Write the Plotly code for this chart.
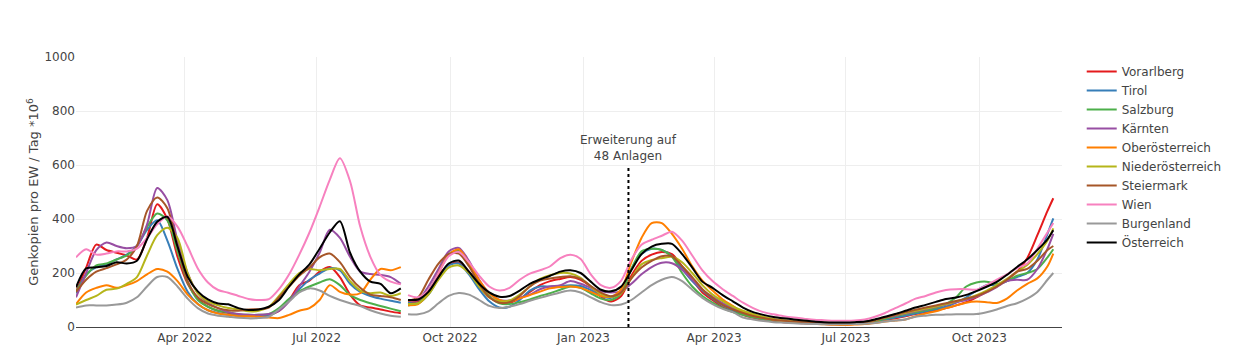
import plotly.graph_objects as go
import pandas as pd

# Dates: weekly samples, gap end of Aug 2022, second period weekly from Sep 2022
dates_a = list(pd.date_range("2022-01-16", periods=33, freq="7D"))
gap_date = [pd.Timestamp("2022-08-31")]
dates_b = list(pd.date_range("2022-09-02", periods=64, freq="7D")) + [pd.Timestamp("2023-11-21")]
dates = dates_a + gap_date + dates_b

names = ["Vorarlberg", "Tirol", "Salzburg", "Kärnten", "Oberösterreich",
         "Niederösterreich", "Steiermark", "Wien", "Burgenland", "Österreich"]
colors = ["#e41a1c", "#377eb8", "#4daf4a", "#984ea3", "#ff7f00",
          "#b5b51a", "#a65628", "#f781bf", "#999999", "#000000"]

vorarlberg_a = [130, 220, 305, 285, 275, 265, 250, 330, 455, 400, 260, 160, 105, 75, 60, 52, 45,
                42, 42, 45, 60, 100, 155, 172, 205, 222, 185, 120, 80, 72, 65, 57, 51]
vorarlberg_b = [92, 95, 135, 190, 230, 238, 205, 150, 110, 92, 90, 105, 130, 155, 170, 178, 185,
                175, 150, 112, 94, 115, 190, 245, 268, 278, 270, 225, 175, 128, 100, 73, 57,
                45, 34, 27, 22, 18, 16, 14, 12, 11, 10, 10, 11, 13, 18, 25, 32, 40,
                48, 55, 62, 70, 80, 92, 110, 130, 150, 175, 205, 255, 340, 430, 477]

tirol_a = [125, 195, 222, 232, 250, 268, 300, 360, 395, 320, 215, 130, 85, 62, 52, 45, 42,
           40, 40, 42, 62, 100, 140, 175, 198, 218, 210, 160, 130, 115, 105, 97, 90]
tirol_b = [90, 88, 120, 180, 228, 235, 195, 140, 95, 72, 75, 100, 135, 150, 150, 152, 155,
           152, 137, 115, 108, 135, 215, 270, 290, 285, 262, 215, 170, 135, 105, 80, 62,
           48, 38, 30, 25, 21, 18, 16, 14, 13, 12, 12, 13, 15, 20, 28, 35, 42,
           50, 58, 66, 75, 90, 110, 135, 155, 155, 170, 185, 200, 250, 345, 402]

salzburg_a = [130, 190, 228, 235, 250, 265, 300, 370, 420, 395, 280, 165, 100, 75, 60, 55, 47,
              45, 45, 48, 70, 105, 132, 150, 165, 177, 155, 118, 100, 88, 78, 68, 58]
salzburg_b = [80, 88, 130, 205, 270, 282, 230, 165, 115, 88, 85, 92, 102, 115, 125, 138, 150,
              145, 125, 105, 100, 125, 215, 280, 290, 285, 260, 200, 150, 115, 90, 70, 55,
              45, 36, 30, 25, 22, 19, 17, 15, 14, 13, 13, 14, 16, 22, 30, 40, 48,
              55, 62, 70, 85, 110, 150, 165, 168, 160, 170, 190, 200, 215, 258, 288]

kaernten_a = [110, 200, 285, 313, 300, 292, 300, 380, 515, 470, 320, 200, 125, 90, 70, 55, 48,
              45, 45, 48, 60, 95, 150, 205, 275, 360, 330, 260, 205, 196, 193, 185, 160]
kaernten_b = [100, 100, 150, 215, 280, 293, 245, 175, 125, 100, 98, 108, 120, 140, 150, 155, 170,
              160, 145, 132, 128, 132, 160, 195, 222, 238, 236, 212, 175, 137, 112, 88, 70,
              55, 42, 34, 28, 24, 20, 18, 16, 15, 14, 14, 15, 18, 25, 35, 42, 50,
              58, 66, 74, 82, 92, 100, 112, 128, 148, 170, 175, 175, 215, 290, 345]

ooe_a = [85, 128, 145, 155, 145, 155, 170, 195, 215, 205, 170, 120, 85, 62, 50, 45, 40,
         40, 38, 35, 33, 45, 60, 70, 100, 155, 130, 120, 125, 175, 215, 210, 222]
ooe_b = [81, 85, 125, 199, 267, 288, 236, 174, 125, 100, 94, 106, 118, 131, 143, 148, 150,
         145, 130, 115, 112, 140, 240, 330, 385, 385, 345, 290, 225, 172, 135, 102, 78,
         55, 42, 34, 27, 22, 18, 15, 12, 10, 8, 7, 9, 11, 15, 20, 24, 28,
         40, 50, 58, 70, 80, 90, 94, 92, 89, 105, 135, 160, 180, 225, 272]

noe_a = [83, 100, 115, 138, 142, 160, 185, 265, 340, 368, 330, 200, 125, 95, 80, 70, 65,
         58, 60, 75, 115, 160, 200, 215, 210, 215, 215, 170, 135, 125, 128, 115, 125]
noe_b = [85, 88, 120, 175, 220, 228, 200, 150, 110, 95, 98, 120, 150, 178, 192, 200, 198,
         182, 150, 123, 112, 125, 180, 232, 248, 255, 260, 240, 200, 155, 120, 96, 75,
         60, 48, 38, 30, 25, 21, 19, 17, 16, 15, 15, 16, 18, 25, 35, 45, 52,
         60, 68, 76, 85, 95, 105, 118, 135, 155, 178, 205, 230, 270, 320, 365]

stmk_a = [130, 175, 205, 218, 232, 250, 300, 430, 480, 440, 300, 170, 110, 85, 70, 62, 60,
          65, 66, 72, 110, 150, 190, 220, 258, 272, 240, 185, 145, 120, 115, 110, 100]
stmk_b = [97, 110, 175, 235, 270, 272, 225, 160, 110, 90, 92, 115, 150, 172, 180, 185, 188,
          178, 152, 127, 114, 128, 180, 220, 245, 262, 262, 225, 185, 140, 108, 82, 65,
          52, 41, 33, 27, 23, 20, 18, 16, 15, 14, 14, 15, 18, 25, 35, 45, 55,
          64, 72, 80, 88, 96, 105, 115, 130, 150, 175, 205, 215, 245, 285, 300]

wien_a = [258, 288, 268, 272, 280, 280, 290, 330, 380, 410, 372, 298, 217, 165, 137, 127, 115,
          104, 100, 103, 140, 195, 268, 350, 445, 545, 625, 540, 372, 260, 192, 168, 158]
wien_b = [118, 110, 135, 200, 262, 278, 240, 190, 150, 135, 145, 175, 198, 210, 225, 255, 268,
          252, 195, 155, 145, 172, 250, 305, 323, 338, 353, 320, 265, 210, 170, 140, 115,
          90, 70, 55, 47, 40, 35, 31, 27, 25, 23, 23, 24, 28, 38, 52, 70, 87,
          105, 115, 128, 137, 140, 140, 138, 155, 175, 195, 218, 235, 290, 350, 385]

burgenland_a = [72, 80, 80, 80, 83, 90, 110, 150, 185, 185, 150, 105, 70, 50, 42, 38, 34,
                32, 33, 38, 65, 95, 128, 143, 135, 115, 100, 88, 78, 62, 50, 42, 38]
burgenland_b = [47, 47, 58, 88, 115, 126, 120, 100, 78, 70, 75, 85, 97, 108, 118, 128, 135,
                128, 110, 92, 81, 83, 100, 128, 155, 175, 185, 170, 138, 108, 85, 67, 55,
                35, 28, 22, 18, 16, 14, 12, 11, 10, 10, 10, 11, 12, 15, 20, 24, 28,
                38, 42, 45, 46, 47, 47, 48, 55, 65, 78, 88, 105, 130, 175, 200]

oesterreich_a = [147, 217, 221, 226, 240, 235, 245, 325, 390, 408, 298, 186, 132, 102, 87, 84, 70,
                 63, 65, 75, 100, 150, 195, 232, 290, 350, 392, 275, 205, 168, 160, 125, 143]
oesterreich_b = [100, 102, 130, 185, 235, 246, 205, 160, 128, 112, 115, 135, 160, 176, 190, 205, 210,
                 200, 168, 138, 132, 150, 210, 270, 298, 308, 308, 270, 220, 168, 145, 118, 95,
                 72, 55, 45, 37, 32, 28, 24, 20, 18, 17, 17, 18, 20, 28, 38, 48, 60,
                 72, 82, 93, 104, 109, 119, 133, 149, 167, 193, 222, 250, 285, 325, 358]

series_a = [vorarlberg_a, tirol_a, salzburg_a, kaernten_a, ooe_a, noe_a, stmk_a, wien_a, burgenland_a, oesterreich_a]
series_b = [vorarlberg_b, tirol_b, salzburg_b, kaernten_b, ooe_b, noe_b, stmk_b, wien_b, burgenland_b, oesterreich_b]

marker_date = "2023-02-01"
marker_text = "Erweiterung auf<br>48 Anlagen"
marker_top = 590

fig = go.Figure()
for name, color, a, b in zip(names, colors, series_a, series_b):
    fig.add_trace(go.Scatter(
        x=dates, y=a + [None] + b, name=name, mode="lines",
        line=dict(color=color, width=2, shape="spline", smoothing=0.8),
        connectgaps=False,
    ))

fig.add_shape(type="line", xref="x", yref="y", x0=marker_date, x1=marker_date,
              y0=0, y1=marker_top, line=dict(color="black", width=2, dash="dot"))
fig.add_annotation(x=marker_date, y=marker_top + 10, xref="x", yref="y", text=marker_text,
                   showarrow=False, yanchor="bottom", font=dict(size=12, color="#444"))

fig.update_layout(
    width=1235, height=344,
    margin=dict(l=68, r=181, t=49, b=25, pad=0),
    paper_bgcolor="white", plot_bgcolor="white",
    font=dict(family="DejaVu Sans, Verdana, sans-serif", size=12, color="#444"),
    showlegend=True,
    legend=dict(font=dict(size=12)),
)
fig.update_xaxes(range=["2022-01-16", "2023-11-27"], showgrid=True, gridcolor="#eeeeee",
                 showline=True, linecolor="#444", linewidth=1, ticks="",
                 dtick="M3", tick0="2022-01-01", tickformat="%b %Y", automargin=False)
fig.update_yaxes(range=[0, 1000], showgrid=True, gridcolor="#eeeeee", zeroline=False,
                 dtick=200, automargin=True,
                 title=dict(text="Genkopien pro EW / Tag *10<sup>6</sup>", standoff=2,
                            font=dict(size=13)))

fig.write_html("out.html")
